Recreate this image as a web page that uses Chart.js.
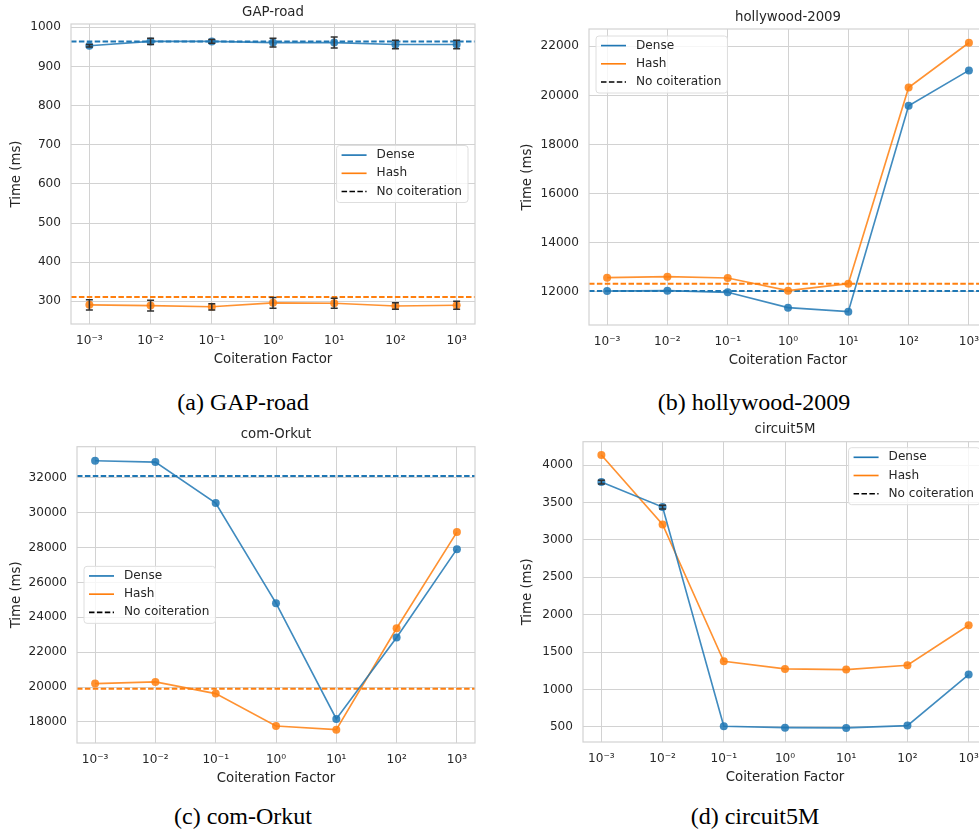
<!DOCTYPE html>
<html lang="en">
<head>
<meta charset="UTF-8">
<title>Coiteration factor timings</title>
<script src="https://cdn.jsdelivr.net/npm/chart.js"></script>
<style>
    html, body {
        margin: 0;
        padding: 0;
        background: #fff;
        width: 979px;
        height: 836px;
        overflow: hidden;
    }
    canvas {
        position: absolute;
    }
    .caption {
        position: absolute;
        font-family: 'Liberation Serif', 'DejaVu Serif', serif;
        font-size: 24px;
        line-height: 24px;
        color: #000;
        white-space: nowrap;
        transform: translateX(-50%);
    }
</style>
</head>
<body>
<canvas id="chartA" width="490" height="370" style="left:0px;top:0px"></canvas>
<canvas id="chartB" width="476" height="371" style="left:511px;top:0px"></canvas>
<canvas id="chartC" width="490" height="369" style="left:0px;top:420px"></canvas>
<canvas id="chartD" width="476" height="368" style="left:511px;top:420px"></canvas>

<div class="caption" style="left:243px;top:390px">(a) GAP-road</div>
<div class="caption" style="left:754px;top:390px">(b) hollywood-2009</div>
<div class="caption" style="left:243px;top:804px">(c) com-Orkut</div>
<div class="caption" style="left:755px;top:804px">(d) circuit5M</div>

<script>
    // x positions are log10 of the coiteration factor
    const factors = [-3, -2, -1, 0, 1, 2, 3];
    const factorLabels = ['10⁻³', '10⁻²', '10⁻¹', '10⁰', '10¹', '10²', '10³'];
    const legendLabels = ['Dense', 'Hash', 'No coiteration'];

    // GAP-road
    const gapDense = [953, 964, 964, 961, 961, 956, 956];
    const gapDenseErr = [3, 8, 5, 11, 14, 11, 11];
    const gapHash = [291, 289, 286, 296, 295, 288, 290];
    const gapHashErr = [13, 14, 8, 14, 13, 8, 10];
    const gapNoCoiter = [964, 311];
    const gapTicks = [300, 400, 500, 600, 700, 800, 900, 1000];

    // hollywood-2009
    const hollyDense = [12027, 12040, 11973, 11347, 11184, 19578, 21020];
    const hollyHash = [12571, 12612, 12558, 12040, 12326, 20323, 22146];
    const hollyNoCoiter = [12027, 12326];
    const hollyTicks = [12000, 14000, 16000, 18000, 20000, 22000];

    // com-Orkut
    const orkutDense = [32976, 32899, 30547, 24809, 18172, 22839, 27907];
    const orkutHash = [20199, 20295, 19626, 17770, 17560, 23374, 28883];
    const orkutNoCoiter = [32096, 19900];
    const orkutTicks = [18000, 20000, 22000, 24000, 26000, 28000, 30000, 32000];

    // circuit5M
    const circDense = [3773, 3438, 509, 491, 487, 518, 1200];
    const circDenseErr = [25, 25, 0, 0, 0, 0, 0];
    const circHash = [4134, 3206, 1378, 1276, 1267, 1325, 1860];
    const circNoCoiter = [];
    const circTicks = [500, 1000, 1500, 2000, 2500, 3000, 3500, 4000];

    const blue = '#1f77b4';
    const orange = '#ff7f0e';
    const blueA = 'rgba(31, 119, 180, 0.85)';
    const orangeA = 'rgba(255, 127, 14, 0.85)';
    const textColor = '#262626';
    const gridColor = '#d2d2d2';
    const fontFamily = '"DejaVu Sans", sans-serif';
    const xMin = -3.3, xMax = 3.3;

    const panelExtras = {
        id: 'panelExtras',
        afterDatasetsDraw(chart) {
            const ctx = chart.ctx;
            const xs = chart.scales.x, ys = chart.scales.y;
            ctx.save();
            ctx.strokeStyle = '#303030';
            ctx.lineWidth = 1.5;
            chart.data.datasets.forEach(ds => {
                if (!ds.errors) return;
                ds.data.forEach((p, i) => {
                    const e = ds.errors[i];
                    if (!e) return;
                    const px = xs.getPixelForValue(p.x);
                    const y1 = ys.getPixelForValue(p.y - e);
                    const y2 = ys.getPixelForValue(p.y + e);
                    ctx.beginPath();
                    ctx.moveTo(px, y1); ctx.lineTo(px, y2);
                    ctx.moveTo(px - 3.5, y1); ctx.lineTo(px + 3.5, y1);
                    ctx.moveTo(px - 3.5, y2); ctx.lineTo(px + 3.5, y2);
                    ctx.stroke();
                });
            });
            ctx.restore();
        },
        afterDraw(chart, args, opts) {
            const ctx = chart.ctx;
            const a = chart.chartArea;
            ctx.save();
            // frame on all four sides
            ctx.strokeStyle = gridColor;
            ctx.lineWidth = 1.2;
            ctx.strokeRect(a.left, a.top, a.right - a.left, a.bottom - a.top);

            // legend inside the axes
            ctx.font = '12.1px ' + fontFamily;
            const textW = Math.max(...legendLabels.map(t => ctx.measureText(t).width));
            const w = 40 + textW + 6;
            const h = 57;
            let x, y;
            if (opts.legend === 'upperLeft') { x = a.left + 7; y = a.top + 7; }
            else if (opts.legend === 'upperRight') { x = a.right - 7 - w; y = a.top + 6; }
            else if (opts.legend === 'centerLeft') { x = a.left + 7; y = (a.top + a.bottom - h) / 2; }
            else { x = a.right - 7 - w; y = (a.top + a.bottom - h) / 2; }

            ctx.beginPath();
            ctx.roundRect(x, y, w, h, 3);
            ctx.fillStyle = 'rgba(255, 255, 255, 0.8)';
            ctx.fill();
            ctx.strokeStyle = '#dedede';
            ctx.lineWidth = 1;
            ctx.stroke();

            const styles = [
                { color: blue, dash: [] },
                { color: orange, dash: [] },
                { color: '#000', dash: [5.5, 2.4] }
            ];
            legendLabels.forEach((label, i) => {
                const ry = y + 9.6 + i * 18.2;
                ctx.beginPath();
                ctx.setLineDash(styles[i].dash);
                ctx.strokeStyle = styles[i].color;
                ctx.lineWidth = 1.65;
                ctx.moveTo(x + 5, ry);
                ctx.lineTo(x + 30, ry);
                ctx.stroke();
                ctx.setLineDash([]);
                ctx.fillStyle = textColor;
                ctx.textBaseline = 'middle';
                ctx.textAlign = 'left';
                ctx.fillText(label, x + 40, ry);
            });
            ctx.restore();
        }
    };

    function series(values, color, errors) {
        return {
            data: factors.map((f, i) => ({ x: f, y: values[i] })),
            errors: errors,
            showLine: true,
            borderColor: color,
            backgroundColor: color,
            borderWidth: 1.65,
            pointRadius: 4,
            pointBorderWidth: 0,
            tension: 0
        };
    }

    function refLine(value, color) {
        return {
            data: [{ x: xMin, y: value }, { x: xMax, y: value }],
            showLine: true,
            borderColor: color,
            borderWidth: 2,
            borderDash: [5.5, 2.4],
            pointRadius: 0
        };
    }

    function makeChart(id, p) {
        const datasets = [
            series(p.dense, blueA, p.denseErr),
            series(p.hash, orangeA, p.hashErr)
        ];
        if (p.noCoiter.length) {
            datasets.push(refLine(p.noCoiter[0], blue));
            datasets.push(refLine(p.noCoiter[1], orange));
        }
        new Chart(document.getElementById(id), {
            type: 'scatter',
            data: { datasets: datasets },
            options: {
                responsive: false,
                animation: false,
                layout: {
                    autoPadding: false,
                    padding: { left: 0, top: 0, right: p.padRight, bottom: 0 }
                },
                scales: {
                    x: {
                        type: 'linear',
                        min: xMin,
                        max: xMax,
                        afterBuildTicks: s => { s.ticks = factors.map(v => ({ value: v })); },
                        afterFit: s => {
                            s.height = 46;
                            s.paddingLeft = 0;
                            s.paddingRight = 0;
                        },
                        ticks: {
                            callback: v => factorLabels[factors.indexOf(v)],
                            font: { family: fontFamily, size: 12.1 },
                            color: textColor,
                            padding: 10,
                            maxRotation: 0,
                            autoSkip: false
                        },
                        grid: { color: gridColor, drawTicks: false },
                        border: { display: false },
                        title: {
                            display: true,
                            text: 'Coiteration Factor',
                            font: { family: fontFamily, size: 13.3 },
                            color: textColor,
                            padding: { top: 0, bottom: 2 }
                        }
                    },
                    y: {
                        type: 'linear',
                        min: p.yMin,
                        max: p.yMax,
                        afterBuildTicks: s => { s.ticks = p.ticks.map(v => ({ value: v })); },
                        afterFit: s => { s.width = p.yWidth; },
                        ticks: {
                            callback: v => String(v),
                            font: { family: fontFamily, size: 12.1 },
                            color: textColor,
                            padding: 10
                        },
                        grid: { color: gridColor, drawTicks: false },
                        border: { display: false },
                        title: {
                            display: true,
                            text: 'Time (ms)',
                            font: { family: fontFamily, size: 13.3 },
                            color: textColor,
                            padding: { top: 9, bottom: 0 }
                        }
                    }
                },
                plugins: {
                    legend: { display: false },
                    tooltip: { enabled: false },
                    title: {
                        display: true,
                        text: p.title,
                        fullSize: false,
                        color: textColor,
                        font: { family: fontFamily, size: 13.3, weight: 'normal' },
                        padding: { top: p.titleTop, bottom: 3.7 }
                    },
                    panelExtras: { legend: p.legend }
                }
            },
            plugins: [panelExtras]
        });
    }

    makeChart('chartA', {
        title: 'GAP-road', dense: gapDense, denseErr: gapDenseErr, hash: gapHash, hashErr: gapHashErr,
        noCoiter: gapNoCoiter, ticks: gapTicks, yMin: 242, yMax: 1008.5,
        yWidth: 71, padRight: 15, titleTop: 4.34, legend: 'centerRight'
    });
    makeChart('chartB', {
        title: 'hollywood-2009', dense: hollyDense, hash: hollyHash,
        noCoiter: hollyNoCoiter, ticks: hollyTicks, yMin: 10640, yMax: 22707,
        yWidth: 78, padRight: 0, titleTop: 9.34, legend: 'upperLeft'
    });
    makeChart('chartC', {
        title: 'com-Orkut', dense: orkutDense, hash: orkutHash,
        noCoiter: orkutNoCoiter, ticks: orkutTicks, yMin: 16795, yMax: 33779,
        yWidth: 77, padRight: 15, titleTop: 7.04, legend: 'centerLeft'
    });
    makeChart('chartD', {
        title: 'circuit5M', dense: circDense, denseErr: circDenseErr, hash: circHash,
        noCoiter: circNoCoiter, ticks: circTicks, yMin: 299, yMax: 4312,
        yWidth: 72, padRight: 0, titleTop: 2.04, legend: 'upperRight'
    });
</script>
</body>
</html>
